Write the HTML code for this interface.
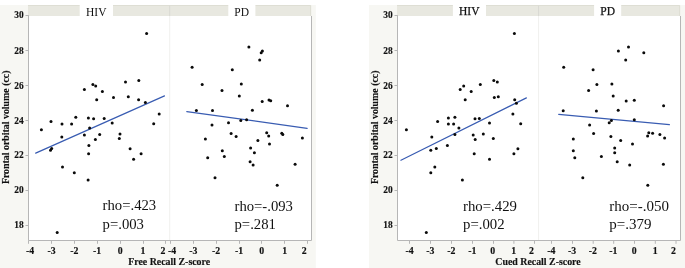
<!DOCTYPE html>
<html><head><meta charset="utf-8"><title>Frontal orbital volume vs recall</title>
<style>
html,body{margin:0;padding:0;background:#fff;}
svg{display:block;will-change:transform;}
text{font-family:"Liberation Serif",serif;fill:#111;}
.tk{font-size:9.8px;font-weight:bold;stroke:#111;stroke-width:0.15px;}
.ty{font-size:9.4px;}
.tt{font-size:9.9px;font-weight:bold;stroke:#111;stroke-width:0.15px;}
.hd{font-size:11.5px;}
.st{font-size:14.5px;}
circle{fill:#0a0a0a;}
</style></head><body>
<svg width="685" height="268" viewBox="0 0 685 268">
<rect width="685" height="268" fill="#fff"/>
<rect x="0" y="5" width="315.8" height="263" fill="#f7f7f3"/>
<rect x="28.5" y="16" width="283.0" height="224.5" fill="#fff"/>
<rect x="28.0" y="5" width="283.1" height="11" fill="#e8e8e0"/>
<path d="M28.0 5.5H310.6V16" fill="none" stroke="#deded4" stroke-width="1"/>
<rect x="79.7" y="5" width="33.3" height="11" fill="#fff"/>
<rect x="228.3" y="5" width="27.099999999999994" height="11" fill="#fff"/>
<line x1="169.7" y1="5.5" x2="169.7" y2="16" stroke="#d9d9d3" stroke-width="1"/>
<line x1="169.7" y1="16" x2="169.7" y2="240" stroke="#f0f0ee" stroke-width="1"/>
<path d="M28.5 15.2V240.5H311.5V16" fill="none" stroke="#b6b6b6" stroke-width="1"/>
<line x1="25.5" y1="15.5" x2="28.5" y2="15.5" stroke="#b6b6b6" stroke-width="1"/>
<text x="23.7" y="18" text-anchor="end" class="tk ty">30</text>
<line x1="25.5" y1="50.5" x2="28.5" y2="50.5" stroke="#b6b6b6" stroke-width="1"/>
<text x="23.7" y="54" text-anchor="end" class="tk ty">28</text>
<line x1="25.5" y1="85.5" x2="28.5" y2="85.5" stroke="#b6b6b6" stroke-width="1"/>
<text x="23.7" y="89" text-anchor="end" class="tk ty">26</text>
<line x1="25.5" y1="120.5" x2="28.5" y2="120.5" stroke="#b6b6b6" stroke-width="1"/>
<text x="23.7" y="124" text-anchor="end" class="tk ty">24</text>
<line x1="25.5" y1="155.5" x2="28.5" y2="155.5" stroke="#b6b6b6" stroke-width="1"/>
<text x="23.7" y="158" text-anchor="end" class="tk ty">22</text>
<line x1="25.5" y1="190.5" x2="28.5" y2="190.5" stroke="#b6b6b6" stroke-width="1"/>
<text x="23.7" y="193" text-anchor="end" class="tk ty">20</text>
<line x1="25.5" y1="225.5" x2="28.5" y2="225.5" stroke="#b6b6b6" stroke-width="1"/>
<text x="23.7" y="228" text-anchor="end" class="tk ty">18</text>
<line x1="28.5" y1="240.5" x2="28.5" y2="243.8" stroke="#b6b6b6" stroke-width="1"/>
<line x1="51.5" y1="240.5" x2="51.5" y2="243.8" stroke="#b6b6b6" stroke-width="1"/>
<line x1="74.5" y1="240.5" x2="74.5" y2="243.8" stroke="#b6b6b6" stroke-width="1"/>
<line x1="97.5" y1="240.5" x2="97.5" y2="243.8" stroke="#b6b6b6" stroke-width="1"/>
<line x1="120.5" y1="240.5" x2="120.5" y2="243.8" stroke="#b6b6b6" stroke-width="1"/>
<line x1="143.5" y1="240.5" x2="143.5" y2="243.8" stroke="#b6b6b6" stroke-width="1"/>
<line x1="165.5" y1="240.5" x2="165.5" y2="243.8" stroke="#b6b6b6" stroke-width="1"/>
<line x1="170.5" y1="240.5" x2="170.5" y2="243.8" stroke="#b6b6b6" stroke-width="1"/>
<line x1="193.5" y1="240.5" x2="193.5" y2="243.8" stroke="#b6b6b6" stroke-width="1"/>
<line x1="216.5" y1="240.5" x2="216.5" y2="243.8" stroke="#b6b6b6" stroke-width="1"/>
<line x1="239.5" y1="240.5" x2="239.5" y2="243.8" stroke="#b6b6b6" stroke-width="1"/>
<line x1="261.5" y1="240.5" x2="261.5" y2="243.8" stroke="#b6b6b6" stroke-width="1"/>
<line x1="284.5" y1="240.5" x2="284.5" y2="243.8" stroke="#b6b6b6" stroke-width="1"/>
<line x1="307.5" y1="240.5" x2="307.5" y2="243.8" stroke="#b6b6b6" stroke-width="1"/>
<text x="30.0" y="254.3" text-anchor="middle" class="tk">-4</text>
<text x="51.5" y="254.3" text-anchor="middle" class="tk">-3</text>
<text x="74.3" y="254.3" text-anchor="middle" class="tk">-2</text>
<text x="97" y="254.3" text-anchor="middle" class="tk">-1</text>
<text x="120.2" y="254.3" text-anchor="middle" class="tk">0</text>
<text x="143" y="254.3" text-anchor="middle" class="tk">1</text>
<text x="163" y="254.3" text-anchor="middle" class="tk">2</text>
<text x="172" y="254.3" text-anchor="middle" class="tk">-4</text>
<text x="193.3" y="254.3" text-anchor="middle" class="tk">-3</text>
<text x="216" y="254.3" text-anchor="middle" class="tk">-2</text>
<text x="239" y="254.3" text-anchor="middle" class="tk">-1</text>
<text x="261.6" y="254.3" text-anchor="middle" class="tk">0</text>
<text x="284.6" y="254.3" text-anchor="middle" class="tk">1</text>
<text x="304.2" y="254.3" text-anchor="middle" class="tk">2</text>
<text x="169.2" y="265" text-anchor="middle" class="tt">Free Recall Z-score</text>
<text transform="translate(9.3,127.3) rotate(-90)" text-anchor="middle" class="tt">Frontal orbital volume (cc)</text>
<text x="96.3" y="16.0" text-anchor="middle" class="hd">HIV</text>
<text x="241.7" y="16.0" text-anchor="middle" class="hd">PD</text>
<line x1="35.7" y1="153.15" x2="164.5" y2="95.9" stroke="#395cb2" stroke-width="1.2" stroke-linecap="round"/>
<line x1="186.8" y1="111.6" x2="307.1" y2="128.3" stroke="#395cb2" stroke-width="1.2" stroke-linecap="round"/>
<text x="102.6" y="210" class="st" style="font-size:14.7px">rho=.423</text><text x="102.6" y="229" class="st" style="font-size:14.7px">p=.003</text>
<text x="234.5" y="211" class="st" style="font-size:14.7px">rho=-.093</text><text x="234.5" y="229" class="st" style="font-size:14.7px">p=.281</text>
<g><circle cx="146.6" cy="33.4" r="1.5"/><circle cx="51.0" cy="121.5" r="1.5"/><circle cx="62.0" cy="123.9" r="1.5"/><circle cx="71.6" cy="123.9" r="1.5"/><circle cx="75.8" cy="117.3" r="1.5"/><circle cx="84.4" cy="89.4" r="1.5"/><circle cx="88.4" cy="118.0" r="1.5"/><circle cx="89.6" cy="127.9" r="1.5"/><circle cx="92.9" cy="84.6" r="1.5"/><circle cx="95.7" cy="85.9" r="1.5"/><circle cx="93.6" cy="118.8" r="1.5"/><circle cx="96.7" cy="99.7" r="1.5"/><circle cx="102.4" cy="91.4" r="1.5"/><circle cx="104.2" cy="118.5" r="1.5"/><circle cx="112.2" cy="122.9" r="1.5"/><circle cx="113.5" cy="97.4" r="1.5"/><circle cx="125.5" cy="82.1" r="1.5"/><circle cx="128.3" cy="96.7" r="1.5"/><circle cx="138.8" cy="80.6" r="1.5"/><circle cx="138.6" cy="99.7" r="1.5"/><circle cx="145.4" cy="102.6" r="1.5"/><circle cx="153.7" cy="123.7" r="1.5"/><circle cx="159.2" cy="114.0" r="1.5"/><circle cx="41.4" cy="129.8" r="1.5"/><circle cx="61.8" cy="136.9" r="1.5"/><circle cx="51.7" cy="148.4" r="1.5"/><circle cx="50.5" cy="150.2" r="1.5"/><circle cx="62.5" cy="167.0" r="1.5"/><circle cx="74.3" cy="172.8" r="1.5"/><circle cx="84.4" cy="135.1" r="1.5"/><circle cx="88.9" cy="145.6" r="1.5"/><circle cx="88.6" cy="153.7" r="1.5"/><circle cx="88.1" cy="180.0" r="1.5"/><circle cx="95.4" cy="139.4" r="1.5"/><circle cx="99.7" cy="134.6" r="1.5"/><circle cx="120.0" cy="133.9" r="1.5"/><circle cx="119.3" cy="138.4" r="1.5"/><circle cx="130.1" cy="148.7" r="1.5"/><circle cx="133.6" cy="159.2" r="1.5"/><circle cx="141.1" cy="153.7" r="1.5"/><circle cx="57.2" cy="232.5" r="1.5"/><circle cx="248.9" cy="47.0" r="1.5"/><circle cx="262.4" cy="51.0" r="1.5"/><circle cx="261.2" cy="52.7" r="1.5"/><circle cx="259.7" cy="60.0" r="1.5"/><circle cx="192.1" cy="67.3" r="1.5"/><circle cx="232.3" cy="69.8" r="1.5"/><circle cx="202.2" cy="84.4" r="1.5"/><circle cx="241.3" cy="83.9" r="1.5"/><circle cx="222.0" cy="90.4" r="1.5"/><circle cx="239.3" cy="95.9" r="1.5"/><circle cx="262.2" cy="101.5" r="1.5"/><circle cx="269.0" cy="99.9" r="1.5"/><circle cx="270.7" cy="100.7" r="1.5"/><circle cx="287.5" cy="105.7" r="1.5"/><circle cx="196.4" cy="110.4" r="1.5"/><circle cx="212.5" cy="110.6" r="1.5"/><circle cx="252.4" cy="110.2" r="1.5"/><circle cx="212.0" cy="124.9" r="1.5"/><circle cx="228.5" cy="122.8" r="1.5"/><circle cx="240.8" cy="120.6" r="1.5"/><circle cx="246.6" cy="119.8" r="1.5"/><circle cx="205.4" cy="138.9" r="1.5"/><circle cx="231.1" cy="133.6" r="1.5"/><circle cx="236.1" cy="136.6" r="1.5"/><circle cx="257.9" cy="140.4" r="1.5"/><circle cx="266.7" cy="132.8" r="1.5"/><circle cx="268.7" cy="135.9" r="1.5"/><circle cx="281.8" cy="133.3" r="1.5"/><circle cx="282.8" cy="134.6" r="1.5"/><circle cx="269.5" cy="144.1" r="1.5"/><circle cx="302.4" cy="138.1" r="1.5"/><circle cx="222.3" cy="150.7" r="1.5"/><circle cx="224.3" cy="156.4" r="1.5"/><circle cx="207.7" cy="157.7" r="1.5"/><circle cx="250.6" cy="147.9" r="1.5"/><circle cx="254.4" cy="152.7" r="1.5"/><circle cx="250.1" cy="161.7" r="1.5"/><circle cx="253.1" cy="165.0" r="1.5"/><circle cx="295.1" cy="164.2" r="1.5"/><circle cx="215.0" cy="177.8" r="1.5"/><circle cx="277.2" cy="185.3" r="1.5"/></g>
<rect x="369" y="5" width="316" height="263" fill="#f7f7f3"/>
<rect x="397.5" y="16" width="283.0" height="224.5" fill="#fff"/>
<rect x="397.0" y="5" width="283.1" height="11" fill="#e8e8e0"/>
<path d="M397.0 5.5H679.6V16" fill="none" stroke="#deded4" stroke-width="1"/>
<rect x="452.9" y="5" width="33.10000000000002" height="11" fill="#fff"/>
<rect x="594.1" y="5" width="27.100000000000023" height="11" fill="#fff"/>
<line x1="538.6" y1="5.5" x2="538.6" y2="16" stroke="#d9d9d3" stroke-width="1"/>
<line x1="538.6" y1="16" x2="538.6" y2="240" stroke="#f0f0ee" stroke-width="1"/>
<path d="M397.5 15.2V240.5H680.5V16" fill="none" stroke="#b6b6b6" stroke-width="1"/>
<line x1="394.5" y1="15.5" x2="397.5" y2="15.5" stroke="#b6b6b6" stroke-width="1"/>
<text x="392.7" y="18" text-anchor="end" class="tk ty">30</text>
<line x1="394.5" y1="50.5" x2="397.5" y2="50.5" stroke="#b6b6b6" stroke-width="1"/>
<text x="392.7" y="54" text-anchor="end" class="tk ty">28</text>
<line x1="394.5" y1="85.5" x2="397.5" y2="85.5" stroke="#b6b6b6" stroke-width="1"/>
<text x="392.7" y="89" text-anchor="end" class="tk ty">26</text>
<line x1="394.5" y1="120.5" x2="397.5" y2="120.5" stroke="#b6b6b6" stroke-width="1"/>
<text x="392.7" y="124" text-anchor="end" class="tk ty">24</text>
<line x1="394.5" y1="155.5" x2="397.5" y2="155.5" stroke="#b6b6b6" stroke-width="1"/>
<text x="392.7" y="158" text-anchor="end" class="tk ty">22</text>
<line x1="394.5" y1="190.5" x2="397.5" y2="190.5" stroke="#b6b6b6" stroke-width="1"/>
<text x="392.7" y="193" text-anchor="end" class="tk ty">20</text>
<line x1="394.5" y1="225.5" x2="397.5" y2="225.5" stroke="#b6b6b6" stroke-width="1"/>
<text x="392.7" y="228" text-anchor="end" class="tk ty">18</text>
<line x1="409.5" y1="240.5" x2="409.5" y2="243.8" stroke="#b6b6b6" stroke-width="1"/>
<line x1="430.5" y1="240.5" x2="430.5" y2="243.8" stroke="#b6b6b6" stroke-width="1"/>
<line x1="451.5" y1="240.5" x2="451.5" y2="243.8" stroke="#b6b6b6" stroke-width="1"/>
<line x1="472.5" y1="240.5" x2="472.5" y2="243.8" stroke="#b6b6b6" stroke-width="1"/>
<line x1="493.5" y1="240.5" x2="493.5" y2="243.8" stroke="#b6b6b6" stroke-width="1"/>
<line x1="513.9" y1="240.5" x2="513.9" y2="243.8" stroke="#b6b6b6" stroke-width="1"/>
<line x1="534.5" y1="240.5" x2="534.5" y2="243.8" stroke="#b6b6b6" stroke-width="1"/>
<line x1="551.5" y1="240.5" x2="551.5" y2="243.8" stroke="#b6b6b6" stroke-width="1"/>
<line x1="572.5" y1="240.5" x2="572.5" y2="243.8" stroke="#b6b6b6" stroke-width="1"/>
<line x1="593.2" y1="240.5" x2="593.2" y2="243.8" stroke="#b6b6b6" stroke-width="1"/>
<line x1="613.7" y1="240.5" x2="613.7" y2="243.8" stroke="#b6b6b6" stroke-width="1"/>
<line x1="634.5" y1="240.5" x2="634.5" y2="243.8" stroke="#b6b6b6" stroke-width="1"/>
<line x1="655.3" y1="240.5" x2="655.3" y2="243.8" stroke="#b6b6b6" stroke-width="1"/>
<line x1="676.0" y1="240.5" x2="676.0" y2="243.8" stroke="#b6b6b6" stroke-width="1"/>
<text x="409.6" y="254.3" text-anchor="middle" class="tk">-4</text>
<text x="430.4" y="254.3" text-anchor="middle" class="tk">-3</text>
<text x="451.4" y="254.3" text-anchor="middle" class="tk">-2</text>
<text x="472.4" y="254.3" text-anchor="middle" class="tk">-1</text>
<text x="492.7" y="254.3" text-anchor="middle" class="tk">0</text>
<text x="513.7" y="254.3" text-anchor="middle" class="tk">1</text>
<text x="531.4" y="254.3" text-anchor="middle" class="tk">2</text>
<text x="551.3" y="254.3" text-anchor="middle" class="tk">-4</text>
<text x="572.2" y="254.3" text-anchor="middle" class="tk">-3</text>
<text x="592.8" y="254.3" text-anchor="middle" class="tk">-2</text>
<text x="613.4" y="254.3" text-anchor="middle" class="tk">-1</text>
<text x="634.3" y="254.3" text-anchor="middle" class="tk">0</text>
<text x="655.1" y="254.3" text-anchor="middle" class="tk">1</text>
<text x="673.5" y="254.3" text-anchor="middle" class="tk">2</text>
<text x="538" y="265" text-anchor="middle" class="tt">Cued Recall Z-score</text>
<text transform="translate(378.3,127.3) rotate(-90)" text-anchor="middle" class="tt">Frontal orbital volume (cc)</text>
<text x="469.3" y="14.9" text-anchor="middle" class="hd" style="stroke:#111;stroke-width:0.25px">HIV</text>
<text x="607.6" y="14.9" text-anchor="middle" class="hd" style="stroke:#111;stroke-width:0.25px">PD</text>
<line x1="400.9" y1="160.2" x2="526.4" y2="97.9" stroke="#395cb2" stroke-width="1.2" stroke-linecap="round"/>
<line x1="558.7" y1="114.35" x2="669.4" y2="124.65" stroke="#395cb2" stroke-width="1.2" stroke-linecap="round"/>
<text x="463.0" y="211" class="st" style="font-size:14.8px">rho=.429</text><text x="463.0" y="229" class="st" style="font-size:14.8px">p=.002</text>
<text x="609.2" y="211" class="st" style="font-size:15.0px">rho=-.050</text><text x="609.2" y="229" class="st" style="font-size:15.0px">p=.379</text>
<g><circle cx="514.4" cy="33.4" r="1.5"/><circle cx="437.6" cy="121.5" r="1.5"/><circle cx="448.4" cy="118.0" r="1.5"/><circle cx="448.4" cy="123.9" r="1.5"/><circle cx="453.6" cy="123.9" r="1.5"/><circle cx="454.9" cy="117.3" r="1.5"/><circle cx="458.9" cy="127.9" r="1.5"/><circle cx="460.2" cy="89.4" r="1.5"/><circle cx="463.7" cy="85.9" r="1.5"/><circle cx="465.2" cy="99.7" r="1.5"/><circle cx="471.2" cy="91.4" r="1.5"/><circle cx="475.0" cy="118.8" r="1.5"/><circle cx="479.3" cy="118.5" r="1.5"/><circle cx="480.3" cy="84.6" r="1.5"/><circle cx="489.5" cy="122.9" r="1.5"/><circle cx="493.8" cy="80.6" r="1.5"/><circle cx="497.3" cy="82.1" r="1.5"/><circle cx="494.3" cy="97.4" r="1.5"/><circle cx="498.3" cy="96.7" r="1.5"/><circle cx="514.7" cy="99.7" r="1.5"/><circle cx="516.4" cy="103.2" r="1.5"/><circle cx="512.9" cy="114.0" r="1.5"/><circle cx="520.7" cy="123.7" r="1.5"/><circle cx="406.4" cy="129.8" r="1.5"/><circle cx="431.8" cy="136.9" r="1.5"/><circle cx="430.8" cy="150.2" r="1.5"/><circle cx="436.3" cy="148.4" r="1.5"/><circle cx="447.4" cy="145.6" r="1.5"/><circle cx="454.9" cy="134.6" r="1.5"/><circle cx="434.8" cy="167.0" r="1.5"/><circle cx="430.8" cy="172.8" r="1.5"/><circle cx="462.4" cy="180.0" r="1.5"/><circle cx="473.2" cy="135.1" r="1.5"/><circle cx="475.2" cy="139.4" r="1.5"/><circle cx="474.2" cy="153.7" r="1.5"/><circle cx="483.3" cy="133.9" r="1.5"/><circle cx="493.3" cy="138.4" r="1.5"/><circle cx="489.5" cy="159.2" r="1.5"/><circle cx="513.9" cy="153.7" r="1.5"/><circle cx="517.9" cy="148.7" r="1.5"/><circle cx="426.3" cy="232.5" r="1.5"/><circle cx="628.5" cy="47.0" r="1.5"/><circle cx="618.4" cy="51.0" r="1.5"/><circle cx="643.8" cy="52.8" r="1.5"/><circle cx="625.7" cy="60.0" r="1.5"/><circle cx="563.7" cy="67.3" r="1.5"/><circle cx="593.1" cy="69.8" r="1.5"/><circle cx="596.9" cy="84.4" r="1.5"/><circle cx="611.9" cy="83.9" r="1.5"/><circle cx="588.6" cy="90.4" r="1.5"/><circle cx="613.2" cy="95.9" r="1.5"/><circle cx="626.2" cy="101.0" r="1.5"/><circle cx="634.3" cy="100.2" r="1.5"/><circle cx="663.6" cy="105.7" r="1.5"/><circle cx="563.2" cy="110.7" r="1.5"/><circle cx="596.4" cy="111.0" r="1.5"/><circle cx="618.2" cy="110.2" r="1.5"/><circle cx="589.6" cy="124.9" r="1.5"/><circle cx="609.2" cy="122.8" r="1.5"/><circle cx="611.4" cy="120.6" r="1.5"/><circle cx="634.3" cy="119.8" r="1.5"/><circle cx="573.3" cy="138.9" r="1.5"/><circle cx="593.6" cy="133.6" r="1.5"/><circle cx="610.9" cy="136.6" r="1.5"/><circle cx="620.7" cy="140.4" r="1.5"/><circle cx="632.5" cy="144.1" r="1.5"/><circle cx="647.6" cy="135.9" r="1.5"/><circle cx="648.8" cy="132.8" r="1.5"/><circle cx="652.6" cy="133.3" r="1.5"/><circle cx="659.9" cy="134.6" r="1.5"/><circle cx="664.6" cy="138.1" r="1.5"/><circle cx="573.3" cy="150.7" r="1.5"/><circle cx="574.8" cy="157.7" r="1.5"/><circle cx="601.4" cy="156.4" r="1.5"/><circle cx="614.7" cy="147.9" r="1.5"/><circle cx="614.7" cy="152.7" r="1.5"/><circle cx="617.2" cy="161.7" r="1.5"/><circle cx="629.7" cy="165.0" r="1.5"/><circle cx="663.4" cy="164.2" r="1.5"/><circle cx="582.8" cy="177.8" r="1.5"/><circle cx="647.8" cy="185.3" r="1.5"/></g>
</svg>
</body></html>
